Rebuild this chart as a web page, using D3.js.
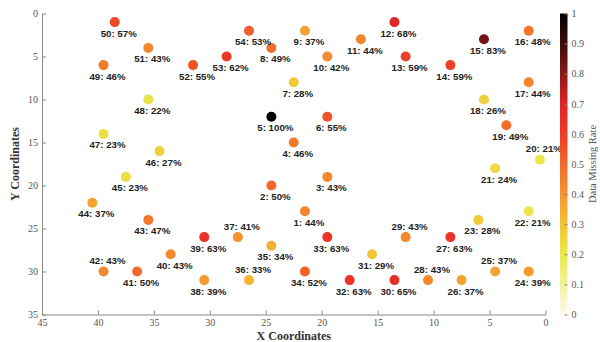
<!DOCTYPE html>
<html>
<head>
<meta charset="utf-8">
<script src="https://cdn.jsdelivr.net/npm/d3@7"></script>
<style>
  body { margin: 0; background: #fff; }
  svg { display: block; }
</style>
</head>
<body>
<div id="chart"></div>
<script>
// sensor positions and missing rates
let ids   = [1, 2, 3, 4, 5, 6, 7, 8, 9, 10, 11, 12, 13, 14, 15, 16, 17, 18, 19, 20,
             21, 22, 23, 24, 25, 26, 27, 28, 29, 30, 31, 32, 33, 34, 35, 36, 37, 38, 39, 40,
             41, 42, 43, 44, 45, 46, 47, 48, 49, 50, 51, 52, 53, 54];
let xs    = [21.5, 24.5, 19.5, 22.5, 24.5, 19.5, 22.5, 24.5, 21.5, 19.5, 16.5, 13.5, 12.5, 8.5, 5.5, 1.5, 1.5, 5.5, 3.5, 0.5,
             4.5, 1.5, 6, 1.5, 4.5, 7.5, 8.5, 10.5, 12.5, 13.5, 15.5, 17.5, 19.5, 21.5, 24.5, 26.5, 27.5, 30.5, 30.5, 33.5,
             36.5, 39.5, 35.5, 40.5, 37.5, 34.5, 39.5, 35.5, 39.5, 38.5, 35.5, 31.5, 28.5, 26.5];
let ys    = [23, 20, 19, 15, 12, 12, 8, 4, 2, 5, 3, 1, 5, 6, 3, 2, 8, 10, 13, 17,
             18, 23, 24, 30, 30, 31, 26, 31, 26, 31, 28, 31, 26, 30, 27, 31, 26, 31, 26, 28,
             30, 30, 24, 22, 19, 16, 14, 10, 6, 1, 4, 6, 5, 2];
let rates = [44, 50, 43, 46, 100, 55, 28, 49, 37, 42, 44, 68, 59, 59, 83, 48, 44, 26, 49, 21,
             24, 21, 28, 39, 37, 37, 63, 43, 43, 65, 29, 63, 63, 52, 34, 33, 41, 39, 63, 43,
             50, 43, 47, 37, 23, 27, 23, 22, 46, 57, 43, 55, 62, 53];
// points whose label sits above the marker
let labelAbove = [20, 25, 28, 29, 36, 37, 42];

let xTicks = [45, 40, 35, 30, 25, 20, 15, 10, 5, 0];
let yTicks = [0, 5, 10, 15, 20, 25, 30, 35];
let cbTicks = [0, 0.1, 0.2, 0.3, 0.4, 0.5, 0.6, 0.7, 0.8, 0.9, 1];

// colormap stops
let cmapStops  = [0, 0.1, 0.2, 0.3, 0.4, 0.5, 0.6, 0.7, 0.8, 0.9, 1];
let cmapColors = ["#fafaf0", "#f2f29c", "#eae84c", "#f3c235", "#f5952e", "#f26a2a",
                  "#ee3b27", "#dd2526", "#8c1818", "#3c0b0b", "#000000"];

let W = 600, H = 342;
let svg = d3.select("#chart").append("svg").attr("width", W).attr("height", H);

let x = d3.scaleLinear().domain([45, 0]).range([42, 545.5]);
let y = d3.scaleLinear().domain([0, 35]).range([13.5, 314.5]);
let color = d3.scaleLinear().domain(cmapStops).range(cmapColors).interpolate(d3.interpolateRgb);

let axisColor = "#888";
let tickText = "#555";
let serif = "'Liberation Serif', 'DejaVu Serif', serif";

function styleAxis(g) {
  g.selectAll("path.domain").attr("stroke", axisColor);
  g.selectAll(".tick line").attr("stroke", axisColor);
  g.selectAll(".tick text").attr("fill", tickText).attr("font-family", serif).attr("font-size", 10);
}

svg.append("g")
  .attr("transform", `translate(0,${y(35)})`)
  .call(d3.axisBottom(x).tickValues(xTicks).tickSize(-4).tickSizeOuter(0).tickPadding(4))
  .call(styleAxis);

svg.append("g")
  .attr("transform", `translate(${x(45)},0)`)
  .call(d3.axisLeft(y).tickValues(yTicks).tickSize(-4).tickSizeOuter(0).tickPadding(4))
  .call(styleAxis);

svg.append("text")
  .attr("x", (x(45) + x(0)) / 2)
  .attr("y", 340)
  .attr("text-anchor", "middle")
  .attr("font-family", serif)
  .attr("font-weight", "bold")
  .attr("font-size", 12)
  .attr("fill", "#333")
  .text("X Coordinates");

svg.append("text")
  .attr("transform", `translate(19,${(y(0) + y(35)) / 2}) rotate(-90)`)
  .attr("text-anchor", "middle")
  .attr("font-family", serif)
  .attr("font-weight", "bold")
  .attr("font-size", 12)
  .attr("fill", "#333")
  .text("Y Coordinates");

// points
let pts = ids.map((id, i) => ({ id: id, x: xs[i], y: ys[i], rate: rates[i] }));

let pg = svg.append("g");
pg.selectAll("circle")
  .data(pts)
  .enter()
  .append("circle")
  .attr("cx", (d) => x(d.x))
  .attr("cy", (d) => y(d.y))
  .attr("r", 5)
  .attr("fill", (d) => color(d.rate / 100));

pg.selectAll("text")
  .data(pts)
  .enter()
  .append("text")
  .attr("x", (d) => x(d.x) + 4)
  .attr("y", (d) => y(d.y) + (labelAbove.includes(d.id) ? -7.5 : 14.5))
  .attr("text-anchor", "middle")
  .attr("font-family", "'Liberation Sans', Arial, sans-serif")
  .attr("font-weight", "bold")
  .attr("font-size", 9.7)
  .attr("fill", "#222")
  .text((d) => `${d.id}: ${d.rate}%`);

// colorbar
let cb = d3.scaleLinear().domain([0, 1]).range([y(35), y(0)]);
let grad = svg.append("defs").append("linearGradient")
  .attr("id", "cbgrad")
  .attr("x1", 0).attr("x2", 0).attr("y1", 1).attr("y2", 0);
grad.selectAll("stop")
  .data(d3.range(0, 1.001, 0.02))
  .enter()
  .append("stop")
  .attr("offset", (d) => d)
  .attr("stop-color", (d) => color(d));

let cbX = 560, cbW = 7.5;
svg.append("rect")
  .attr("x", cbX)
  .attr("y", cb(1))
  .attr("width", cbW)
  .attr("height", cb(0) - cb(1))
  .attr("fill", "url(#cbgrad)");

svg.append("g")
  .attr("transform", `translate(${cbX + cbW},0)`)
  .call(d3.axisRight(cb).tickValues(cbTicks).tickSize(-3).tickSizeOuter(0).tickPadding(4)
    .tickFormat((d) => (d === 0 || d === 1) ? d3.format("d")(d) : d3.format(".1f")(d)))
  .call(styleAxis)
  .call((g) => g.select("path.domain").remove());

svg.append("text")
  .attr("transform", `translate(596,${(y(0) + y(35)) / 2}) rotate(-90)`)
  .attr("text-anchor", "middle")
  .attr("font-family", serif)
  .attr("font-size", 10.5)
  .attr("fill", tickText)
  .text("Data Missing Rate");
</script>
</body>
</html>
